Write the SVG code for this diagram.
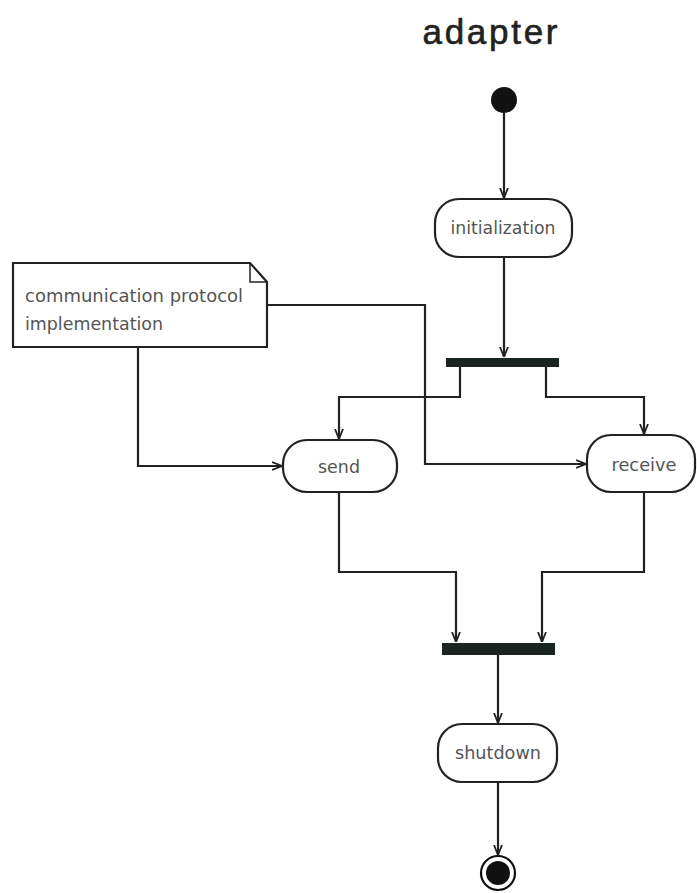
<svg xmlns="http://www.w3.org/2000/svg" width="697" height="893" viewBox="0 0 697 893">
<style>
.node{fill:#fff;stroke:#222;stroke-width:2.2}
.lbl{font-family:"DejaVu Sans",sans-serif;font-size:17px;fill:#555;text-anchor:middle}
.note{font-family:"DejaVu Sans",sans-serif;font-size:17px;fill:#555}
.bar{fill:#1a2420}
.conn path{fill:none;stroke:#222;stroke-width:2.2;marker-end:url(#arr)}
</style>
<defs>
<marker id="arr" markerUnits="userSpaceOnUse" viewBox="0 0 10 10" refX="10" refY="5" markerWidth="10" markerHeight="10" orient="auto">
<path d="M0,1 L10,5 L0,9" fill="none" stroke="#222" stroke-width="1.8"/>
</marker>
</defs>
<rect width="697" height="893" fill="#fff"/>
<text x="490" y="44" font-family="Liberation Sans,Arial,sans-serif" font-size="35" fill="#222" stroke="#222" stroke-width="0.6" text-anchor="middle" textLength="135" lengthAdjust="spacing">adapter</text>
<g id="start"><circle cx="504" cy="100" r="13" fill="#111"/></g>
<g id="initialization"><rect class="node" x="435" y="199" width="137" height="58" rx="24"/><text class="lbl" x="503" y="234" textLength="105" lengthAdjust="spacingAndGlyphs">initialization</text></g>
<g id="fork"><rect class="bar" x="446" y="358" width="113" height="9"/></g>
<g id="note"><path class="node" d="M13,263 H250 L267,282 V347 H13 Z"/><path d="M250,263 V282 H267" fill="none" stroke="#222" stroke-width="1.5"/>
<text class="note" x="25" y="302" textLength="218" lengthAdjust="spacingAndGlyphs">communication protocol</text>
<text class="note" x="25" y="330" textLength="138" lengthAdjust="spacingAndGlyphs">implementation</text></g>
<g id="send"><rect class="node" x="283" y="440" width="114" height="52" rx="24"/><text class="lbl" x="339" y="473" textLength="42" lengthAdjust="spacingAndGlyphs">send</text></g>
<g id="receive"><rect class="node" x="587" y="435" width="108" height="57" rx="24"/><text class="lbl" x="644" y="471" textLength="65" lengthAdjust="spacingAndGlyphs">receive</text></g>
<g id="join"><rect class="bar" x="442" y="643" width="113" height="12"/></g>
<g id="shutdown"><rect class="node" x="438" y="724" width="119" height="58" rx="24"/><text class="lbl" x="498" y="759" textLength="86" lengthAdjust="spacingAndGlyphs">shutdown</text></g>
<g id="end"><circle cx="498" cy="873" r="17" fill="#fff" stroke="#111" stroke-width="2.2"/><circle cx="498" cy="873" r="12" fill="#111"/></g>
<g class="conn" id="connectors">
<path d="M504,113 V198"/>
<path d="M504,257 V357"/>
<path d="M460,367 V397 H339 V439"/>
<path d="M546,367 V397 H644 V434"/>
<path d="M267,305 H425 V464 H586"/>
<path d="M138,347 V466 H282"/>
<path d="M339,492 V572 H456 V642"/>
<path d="M644,492 V572 H542 V642"/>
<path d="M498,655 V723"/>
<path d="M498,782 V855"/>
</g>
</svg>
